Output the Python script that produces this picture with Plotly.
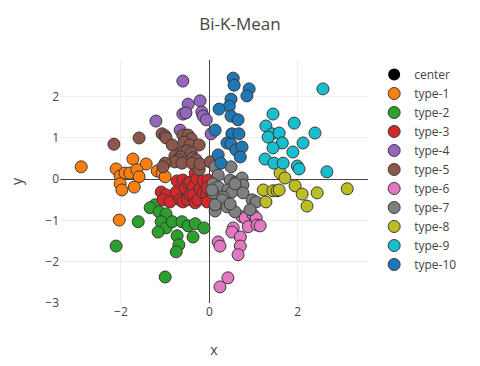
import plotly.graph_objects as go

# Cluster centres (drawn first, sit beneath their clusters)
center_x = [-1.59, -0.84, -0.44, -0.53, -0.60, 0.70, 0.42, 1.53, 1.65, 0.51]
center_y = [0.06, -1.03, -0.38, 1.61, 0.66, -1.40, -0.26, -0.28, 0.88, 1.10]

t1_x = [-2.90, -2.11, -1.73, -1.43, -2.02, -1.91, -1.80, -1.64, -1.59, -1.18, -1.07, -1.00, -2.02, -1.98, -1.70, -2.04]
t1_y = [0.30, 0.25, 0.49, 0.37, 0.08, 0.15, 0.15, 0.23, 0.06, 0.20, 0.15, 0.06, -0.11, -0.26, -0.19, -0.99]

t2_x = [-1.23, -1.34, -1.14, -0.98, -1.09, -0.98, -0.84, -0.62, -0.48, -0.32, -0.12, -1.16, -0.73, -0.69, -0.75, -0.37, -1.61, -2.11, -1.00]
t2_y = [-0.62, -0.69, -0.79, -0.84, -1.03, -1.18, -1.03, -1.03, -1.13, -1.08, -1.18, -1.28, -1.37, -1.59, -1.76, -1.40, -1.03, -1.62, -2.37]

t3_x = [-1.09, -0.98, -1.05, -0.89, -0.73, -0.69, -0.64, -0.75, -0.66, -0.60, -0.60, -0.55, -0.50, -0.48, -0.44, -0.44, -0.37, -0.37, -0.32, -0.32, -0.28, -0.21, -0.26, -0.14, -0.14, -0.07, -0.05, -0.03, -0.05]
t3_y = [-0.31, -0.38, -0.50, -0.55, -0.04, -0.40, -0.31, -0.31, -0.50, -0.55, -0.02, -0.21, -0.50, -0.09, -0.07, -0.38, -0.19, -0.38, 0.15, -0.57, 0.01, -0.23, -0.50, -0.04, -0.33, -0.38, -0.55, -0.02, -0.21]

t4_x = [-0.60, -0.48, -0.21, -0.60, -0.53, -0.17, -0.14, -0.07, -1.21, -0.66, 0.04]
t4_y = [2.38, 1.82, 1.90, 1.58, 1.61, 1.63, 1.53, 1.44, 1.41, 1.19, 1.10]

t5_x = [-2.16, -1.59, -1.07, -1.00, -0.98, -0.84, -0.60, -0.48, -0.41, -0.57, -0.44, -0.23, -0.66, -0.60, -0.50, -0.41, -0.78, -0.66, -0.71, -0.78, -0.62, -0.37, -0.30, -0.39, -0.23, -0.21, -1.00, -1.05, 0.02]
t5_y = [0.85, 1.00, 1.10, 1.05, 1.00, 0.83, 1.07, 1.07, 0.98, 0.90, 0.83, 0.83, 0.64, 0.66, 0.69, 0.64, 0.56, 0.54, 0.47, 0.42, 0.39, 0.52, 0.47, 0.39, 0.23, 0.37, 0.39, 0.30, 0.42]

t6_x = [0.74, 0.81, 0.99, 1.06, 0.88, 1.08, 1.15, 0.54, 0.51, 0.70, 0.70, 0.65, 0.20, 0.24, 0.42, 0.24]
t6_y = [-0.91, -0.94, -0.86, -0.94, -1.15, -1.11, -1.13, -1.18, -1.28, -1.40, -1.62, -1.83, -1.52, -1.62, -2.39, -2.61]

t7_x = [0.13, 0.49, 0.20, 0.47, 0.60, 0.74, 0.76, 0.08, 0.20, 0.42, 0.51, 0.76, 0.08, 0.31, 0.29, 0.40, 0.58, 0.97, 1.06, 0.92, 0.13, 0.06, 0.13, 0.58, 0.47]
t7_y = [0.30, 0.30, 0.10, -0.02, -0.07, 0.03, -0.14, -0.11, -0.19, -0.26, -0.31, -0.33, -0.33, -0.43, -0.50, -0.67, -0.79, -0.50, -0.55, -0.74, -0.77, -0.26, -0.62, -0.11, -0.60]

t8_x = [1.60, 1.71, 1.22, 1.44, 1.53, 1.58, 1.28, 1.94, 2.10, 2.21, 2.44, 3.12]
t8_y = [0.15, 0.03, -0.26, -0.28, -0.28, -0.26, -0.55, -0.16, -0.36, -0.65, -0.33, -0.23]

t9_x = [2.57, 1.44, 1.92, 1.28, 1.42, 1.33, 1.58, 1.65, 1.44, 2.12, 2.39, 1.89, 1.26, 1.46, 1.67, 1.99, 2.03, 2.66]
t9_y = [2.19, 1.58, 1.36, 1.29, 1.10, 1.02, 1.12, 0.88, 0.76, 0.88, 1.12, 0.66, 0.49, 0.39, 0.39, 0.32, 0.25, 0.18]

t10_x = [0.54, 0.56, 0.90, 0.85, 0.49, 0.45, 0.22, 0.49, 0.65, 0.13, 0.51, 0.67, 0.40, 0.49, 0.60, 0.74, 0.70, 0.20, 0.26]
t10_y = [2.45, 2.28, 2.19, 2.02, 1.94, 1.77, 1.70, 1.53, 1.44, 1.19, 1.10, 1.10, 0.88, 0.85, 0.71, 0.78, 0.54, 0.59, 0.39]

series = [
    ("type-1", t1_x, t1_y), ("type-2", t2_x, t2_y), ("type-3", t3_x, t3_y),
    ("type-4", t4_x, t4_y), ("type-5", t5_x, t5_y), ("type-6", t6_x, t6_y),
    ("type-7", t7_x, t7_y), ("type-8", t8_x, t8_y), ("type-9", t9_x, t9_y),
    ("type-10", t10_x, t10_y),
]

fig = go.Figure()
fig.add_trace(go.Scatter(x=center_x, y=center_y, mode="markers", name="center",
                         marker=dict(color="black", size=12)))
for name, xs, ys in series:
    fig.add_trace(go.Scatter(x=xs, y=ys, mode="markers", name=name,
                             marker=dict(size=12, line=dict(width=1, color="#3a3a3a"))))

fig.update_layout(
    template="none",
    width=480, height=366,
    title=dict(text="Bi-K-Mean"),
    margin=dict(l=60, r=112, t=60, b=63),
    xaxis=dict(title=dict(text="x"), range=[-3.38, 3.59]),
    yaxis=dict(title=dict(text="y"), range=[-3.0, 2.89]),
)
fig.write_html("out.html", config={"displayModeBar": False},
               post_script="document.body.style.margin='0';")
